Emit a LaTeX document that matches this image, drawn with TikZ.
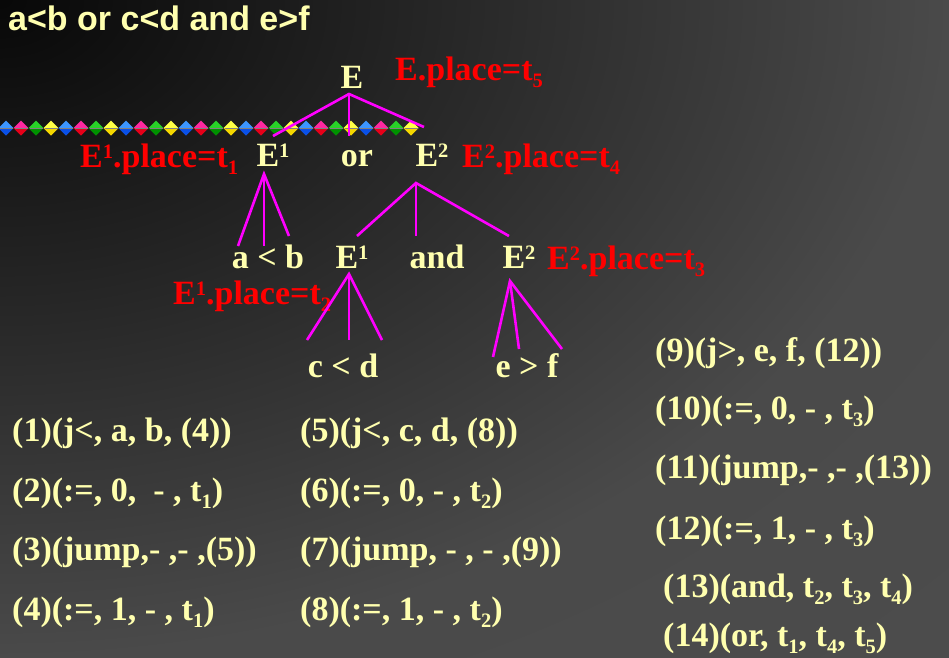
\documentclass[tikz,border=0pt]{standalone}
\usepackage{fontspec}
\setmainfont{Liberation Serif}
\newfontfamily\titlefont{Liberation Sans}
\definecolor{cream}{RGB}{255,255,175}
\definecolor{branchc}{RGB}{255,0,255}
\definecolor{gblueL}{RGB}{60,150,255}\definecolor{gblueD}{RGB}{10,80,230}
\definecolor{gredL}{RGB}{255,40,160}\definecolor{gredD}{RGB}{230,0,25}
\definecolor{ggreenL}{RGB}{40,210,40}\definecolor{ggreenD}{RGB}{0,145,0}
\definecolor{gyelL}{RGB}{255,255,70}\definecolor{gyelD}{RGB}{245,215,0}
\pgfdeclareradialshading{bgrad}{\pgfpoint{0bp}{0bp}}{rgb(0bp)=(0.03,0.03,0.03); rgb(655bp)=(0.29,0.29,0.29); rgb(1000bp)=(0.30,0.30,0.30)}
\newcommand\supn[1]{\raisebox{9pt}{\fontsize{20.5}{20.5}\selectfont #1}}
\newcommand\subn[1]{\raisebox{-7pt}{\fontsize{20.5}{20.5}\selectfont #1}}
\newcommand\gem[3]{%
  \fill[#2] ({#1-7.5},128) -- (#1,120.5) -- ({#1+7.5},128) -- cycle;
  \fill[#3] ({#1-7.5},128) -- (#1,135.5) -- ({#1+7.5},128) -- cycle;
  \draw[black!50,line width=0.7pt] ({#1-6.5},128) -- ({#1+6.5},128);}
\tikzset{
  treetext/.style={text=cream,font={\fontsize{34}{36}\selectfont\bfseries},inner sep=0pt,anchor=base},
  placetext/.style={text=red,font={\fontsize{34}{36}\selectfont\bfseries},inner sep=0pt,anchor=base west},
  quadtext/.style={text=cream,font={\fontsize{34}{36}\selectfont\bfseries},inner sep=0pt,anchor=base west},
  branch/.style={draw=branchc,line width=2.6pt}
}
\begin{document}
\begin{tikzpicture}[x=1pt,y=-1pt]
\useasboundingbox (0,0) rectangle (949,657);
\fill[black!71] (0,0) rectangle (949,657);
\begin{scope}
\clip (0,0) rectangle (949,657);
\begin{scope}[transform canvas={xscale=1.444}]
\node[inner sep=0pt] (bg) at (0,0) {\pgfuseshading{bgrad}};
\end{scope}
\end{scope}
% title
\node[text=cream,font={\titlefont\fontsize{34}{36}\selectfont\bfseries},inner sep=0pt,anchor=base west] (title) at (8,30) {a<b or c<d and e>f};
% gem row
\foreach \g in {0,...,6}{
  \pgfmathsetmacro\xa{6+60*\g}\pgfmathsetmacro\xb{21+60*\g}
  \pgfmathsetmacro\xc{36+60*\g}\pgfmathsetmacro\xd{51+60*\g}
  \gem{\xa}{gblueL}{gblueD}
  \gem{\xb}{gredL}{gredD}
  \gem{\xc}{ggreenL}{ggreenD}
  \gem{\xd}{gyelL}{gyelD}
}
% tree nodes
\node[treetext] (E) at (352,88) {E};
\node[placetext] (Ep) at (395,80) {E.place=t\subn{5}};
\node[treetext] (E1) at (273,166) {E\supn{1}};
\node[treetext] (or) at (357,166) {or};
\node[treetext] (E2) at (432,166) {E\supn{2}};
\node[placetext] (E1p) at (80,167) {E\supn{1}.place=t\subn{1}};
\node[placetext] (E2p) at (462,167) {E\supn{2}.place=t\subn{4}};
\node[treetext] (ab) at (268,268) {a < b};
\node[treetext] (E1b) at (352,268) {E\supn{1}};
\node[treetext] (and) at (437,268) {and};
\node[treetext] (E2b) at (519,268) {E\supn{2}};
\node[placetext] (E2bp) at (547,269) {E\supn{2}.place=t\subn{3}};
\node[placetext] (E1bp) at (173,304) {E\supn{1}.place=t\subn{2}};
\node[treetext] (cd) at (343,377) {c < d};
\node[treetext] (ef) at (527,377) {e > f};
% branch coordinates
\coordinate (rE) at (349,94);
\coordinate (rE-1) at (273,136);\coordinate (rE-2) at (349,136);\coordinate (rE-3) at (424,127);
\coordinate (rA) at (264,174);
\coordinate (rA-1) at (238,246);\coordinate (rA-2) at (264,246);\coordinate (rA-3) at (289,236);
\coordinate (rB) at (416,183);
\coordinate (rB-1) at (357,236);\coordinate (rB-2) at (416,236);\coordinate (rB-3) at (509,236);
\coordinate (rC) at (349,274);
\coordinate (rC-1) at (307,340);\coordinate (rC-2) at (349,340);\coordinate (rC-3) at (382,340);
\coordinate (rD) at (510,281);
\coordinate (rD-1) at (493,357);\coordinate (rD-2) at (519,349);\coordinate (rD-3) at (562,349);
\foreach \r in {rE,rA,rB,rC,rD}{
  \draw[branch] (\r-1) -- (\r) -- (\r-3);
  \draw[branch] (\r) -- (\r-2);
}
% quadruples
\node[quadtext] (q1) at (12,441) {(1)(j<, a, b, (4))};
\node[quadtext] (q2) at (12,501) {(2)(:=, 0,\ \ - , t\subn{1})};
\node[quadtext] (q3) at (12,560) {(3)(jump,- ,- ,(5))};
\node[quadtext] (q4) at (12,620) {(4)(:=, 1, - , t\subn{1})};
\node[quadtext] (q5) at (300,441) {(5)(j<, c, d, (8))};
\node[quadtext] (q6) at (300,501) {(6)(:=, 0, - , t\subn{2})};
\node[quadtext] (q7) at (300,560) {(7)(jump, - , - ,(9))};
\node[quadtext] (q8) at (300,620) {(8)(:=, 1, - , t\subn{2})};
\node[quadtext] (q9) at (655,361) {(9)(j>, e, f, (12))};
\node[quadtext] (q10) at (655,419) {(10)(:=, 0, - , t\subn{3})};
\node[quadtext] (q11) at (655,478) {(11)(jump,- ,- ,(13))};
\node[quadtext] (q12) at (655,539) {(12)(:=, 1, - , t\subn{3})};
\node[quadtext] (q13) at (663,597) {(13)(and, t\subn{2}, t\subn{3}, t\subn{4})};
\node[quadtext] (q14) at (663,646) {(14)(or, t\subn{1}, t\subn{4}, t\subn{5})};
\end{tikzpicture}
\end{document}
